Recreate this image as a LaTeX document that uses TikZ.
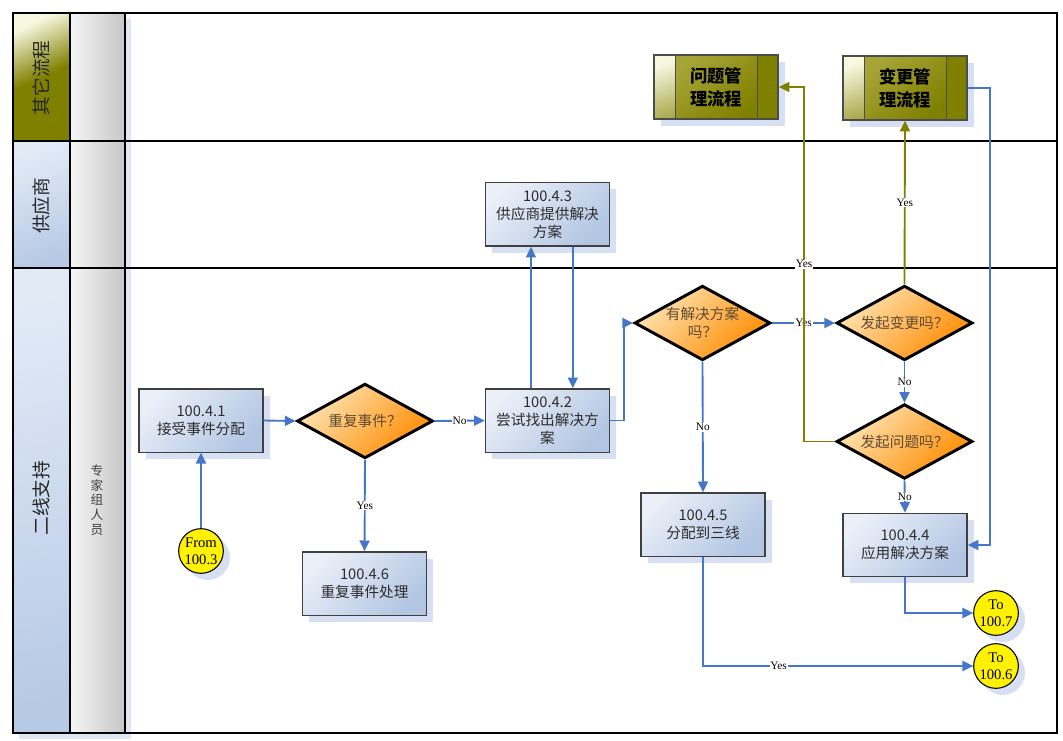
\documentclass[tikz,border=0pt]{standalone}
\usepackage{fontspec}
\setmainfont{Liberation Serif}
\newfontfamily\cjk{Noto Sans CJK SC}
\usetikzlibrary{shapes.geometric,shadows,arrows.meta,calc}
\definecolor{boxlight}{RGB}{234,239,248}
\definecolor{boxdark}{RGB}{178,198,227}
\definecolor{shadowc}{RGB}{214,224,242}
\definecolor{orlight}{RGB}{255,228,180}
\definecolor{ordark}{RGB}{255,140,0}
\definecolor{olivelight}{RGB}{248,248,225}
\definecolor{olivemid}{RGB}{165,165,55}
\definecolor{olivec}{RGB}{128,128,0}
\definecolor{hblight}{RGB}{226,234,246}
\definecolor{hbdark}{RGB}{182,202,229}
\definecolor{greylight}{RGB}{246,246,246}
\definecolor{greydark}{RGB}{198,198,198}
\definecolor{flowblue}{RGB}{70,118,200}
\definecolor{txtgrey}{RGB}{45,45,45}
\definecolor{diatxt}{RGB}{95,75,50}
\definecolor{hshadow}{RGB}{222,230,244}
\begin{document}
\begin{tikzpicture}[x=0.75pt,y=-0.75pt,
  shadowed/.style={drop shadow={shadow xshift=5pt,shadow yshift=-5pt,fill=shadowc,opacity=1}},
  procbox/.style={rectangle,draw=black!75,line width=1pt,top color=boxlight,bottom color=boxdark,shading angle=45,
    minimum width=93pt,minimum height=47.5pt,inner sep=1pt,align=center,text=txtgrey,
    font=\cjk\fontsize{11}{13.5}\selectfont,shadowed},
  decision/.style={diamond,draw=black,line width=2.2pt,top color=orlight,bottom color=ordark,shading angle=45,
    minimum width=102pt,minimum height=56pt,inner sep=0pt,aspect=1.8,align=center,text=diatxt,
    font=\cjk\fontsize{11}{13.5}\selectfont},
  subproc/.style={rectangle,draw=black!70,line width=1pt,fill=olivec,
    path picture={
      \shade[top color=olivelight,bottom color=olivec,shading angle=20]
        (path picture bounding box.north west) rectangle ([xshift=16.5pt]path picture bounding box.south west);
      \shade[top color=olivemid,bottom color=olivec,shading angle=40]
        ([xshift=16.5pt]path picture bounding box.north west) rectangle ([xshift=-16pt]path picture bounding box.south east);
    },
    minimum width=93pt,minimum height=48pt,inner sep=1pt,align=center,text=black,
    font=\cjk\bfseries\fontsize{13}{17}\selectfont,shadowed},
  term/.style={circle,draw=black,line width=0.8pt,fill=yellow,minimum size=33.5pt,inner sep=0pt,align=center,
    font=\fontsize{11}{12.5}\selectfont,shadowed},
  flow/.style={draw=flowblue,line width=1.4pt,-{Triangle[length=8pt,width=7.5pt]}},
  flowo/.style={draw=olivec,line width=1.4pt,-{Triangle[length=8pt,width=7.5pt]}},
  lbl/.style={fill=white,inner sep=0.6pt,font=\fontsize{8.5}{9}\selectfont,text=black},
  lane/.style={line width=2.2pt,draw=black},
  hdrtext/.style={rotate=90,font=\cjk\fontsize{14}{16}\selectfont,text=black!85}
]
\useasboundingbox (0,0) rectangle (1063,741);
% header shadows
\fill[hshadow] (19,19) rectangle (131,739);
% header cells
\shade[top color=olivelight,bottom color=olivec,middle color=olivec,shading angle=25] (13,13) rectangle (70,141);
\shade[top color=hblight,bottom color=hbdark,shading angle=20] (13,141) rectangle (70,268);
\shade[top color=hblight,bottom color=hbdark,shading angle=10] (13,268) rectangle (70,733);
\shade[left color=greylight,right color=greydark] (70,13) rectangle (125,141);
\shade[left color=greylight,right color=greydark] (70,141) rectangle (125,268);
\shade[left color=greylight,right color=greydark] (70,268) rectangle (125,733);
% lane lines
\draw[lane] (13,13) rectangle (1057,733);
\draw[lane] (70,13) -- (70,733);
\draw[lane] (125,13) -- (125,733);
\draw[lane] (13,141) -- (1057,141);
\draw[lane] (13,268) -- (1057,268);
% header texts
\node[hdrtext] (h1) at (41,78) {其它流程};
\node[hdrtext] (h2) at (41,206) {供应商};
\node[hdrtext] (h3) at (41,498) {二线支持};
\node[align=center,text=black!75,font=\cjk\fontsize{9.5}{11}\selectfont] (h4) at (97,500) {专\\家\\组\\人\\员};
% nodes
\node[procbox] (b441) at (201,420.5) {100.4.1\\接受事件分配};
\node[decision] (d1) at (365,421) {重复事件？};
\node[procbox] (b442) at (547.5,420.5) {100.4.2\\尝试找出解决方\\案};
\node[procbox] (b443) at (547.5,214.5) {100.4.3\\供应商提供解决\\方案};
\node[procbox] (b446) at (364.5,583.5) {100.4.6\\重复事件处理};
\node[decision] (d2) at (702.5,323) {有解决方案\\吗？};
\node[decision] (d3) at (904.5,323) {发起变更吗？};
\node[decision] (d4) at (904.5,441.5) {发起问题吗？};
\node[procbox] (b445) at (703,524.5) {100.4.5\\分配到三线};
\node[procbox] (b444) at (905,545) {100.4.4\\应用解决方案};
\node[subproc] (prb) at (716,87) {问题管\\理流程};
\node[subproc] (chg) at (905,88) {变更管\\理流程};
\draw[black!70,line width=1pt] ([xshift=16.5pt]prb.north west) -- ([xshift=16.5pt]prb.south west);
\draw[black!70,line width=1pt] ([xshift=-16pt]prb.north east) -- ([xshift=-16pt]prb.south east);
\draw[black!70,line width=1pt] ([xshift=16.5pt]chg.north west) -- ([xshift=16.5pt]chg.south west);
\draw[black!70,line width=1pt] ([xshift=-16pt]chg.north east) -- ([xshift=-16pt]chg.south east);
\node[term] (from) at (201,551) {From\\100.3};
\node[term] (to7) at (996,613) {To\\100.7};
\node[term] (to6) at (996,666) {To\\100.6};
% connectors
\draw[flow] (b441.east) -- (d1.west);
\draw[flow] (from.north) -- (b441.south);
\draw[flow] (d1.east) -- node[lbl]{No} (b442.west);
\draw[flow] (d1.south) -- node[lbl]{Yes} (b446.north);
\draw[flow] ([xshift=-12.4pt]b442.north) -- ([xshift=-12.4pt]b443.south);
\draw[flow] ([xshift=19pt]b443.south) -- ([xshift=19pt]b442.north);
\draw[flow] (b442.east) -- ++(14,0) |- (d2.west);
\draw[flow] (d2.east) -- node[lbl]{Yes} (d3.west);
\draw[flow] (d2.south) -- node[lbl]{No} (b445.north);
\draw[flow] (d3.south) -- node[lbl]{No} (d4.north);
\draw[flowo] (d3.north) -- node[lbl]{Yes} (chg.south);
\draw[flowo] (d4.west) -- ++(-31,0) |- node[lbl,pos=0.25]{Yes} (prb.east);
\draw[flow] (d4.south) -- node[lbl]{No} (b444.north);
\draw[flow] (chg.east) -- ++(22,0) |- (b444.east);
\draw[flow] (b444.south) |- (to7.west);
\draw[flow] (b445.south) |- node[lbl,pos=0.64]{Yes} (to6.west);
\end{tikzpicture}
\end{document}
